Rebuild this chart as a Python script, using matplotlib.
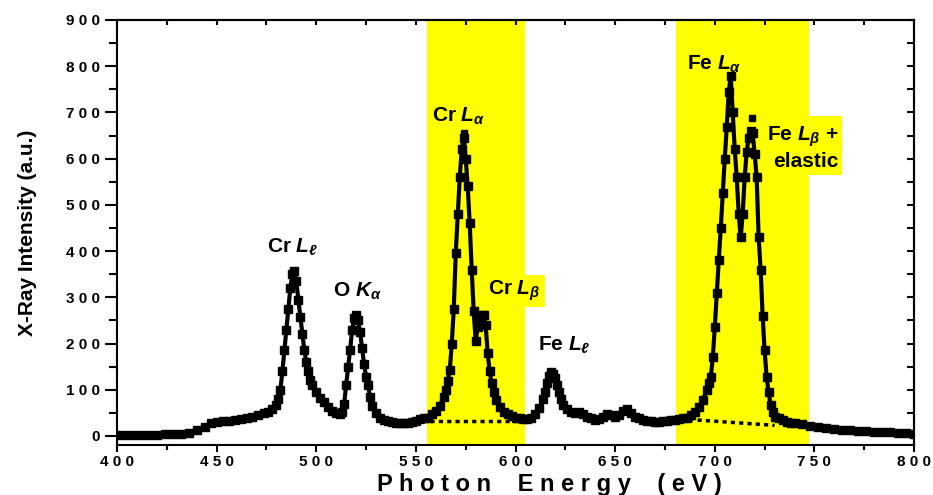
import matplotlib
matplotlib.use("Agg")
import matplotlib.pyplot as plt
from matplotlib.ticker import MultipleLocator, FixedLocator

plt.rcParams['font.family'] = ['Liberation Sans', 'DejaVu Sans']
plt.rcParams['mathtext.fontset'] = 'custom'
plt.rcParams['mathtext.it'] = 'Liberation Sans:italic:bold'
plt.rcParams['mathtext.rm'] = 'Liberation Sans:bold'
plt.rcParams['mathtext.bf'] = 'Liberation Sans:bold'

# ---- data ----
energy = [400, 404, 408, 412, 416, 420, 424, 428, 432, 436, 440, 444, 447, 450, 453, 456, 459,
          462, 465, 468, 471, 474, 476, 478, 480, 481, 482, 483, 484, 485, 486, 487, 488, 489,
          490, 491, 492, 493, 494, 495, 496, 497, 498, 500, 502, 504, 506, 508, 510, 512, 513,
          514, 515, 516, 517, 518, 519, 520, 521, 522, 523, 524, 525, 526, 527, 528, 530, 532,
          534, 536, 538, 540, 542, 544, 546, 548, 550, 552, 554, 556, 558, 560, 562, 564, 565,
          566, 567, 568, 569, 570, 571, 572, 573, 574, 575, 576, 577, 578, 579, 580, 581, 582,
          583, 584, 585, 586, 587, 588, 589, 590, 592, 594, 596, 598, 600, 602, 604, 606, 608,
          610, 612, 614, 615, 616, 617, 618, 619, 620, 621, 622, 623, 624, 626, 628, 630, 632,
          634, 636, 638, 640, 642, 644, 646, 648, 650, 652, 654, 656, 658, 660, 662, 664, 666,
          668, 670, 672, 674, 676, 678, 680, 682, 684, 686, 688, 690, 692, 694, 696, 697, 698,
          699, 700, 701, 702, 703, 704, 705, 706, 707, 708, 709, 710, 711, 712, 713, 714, 715,
          716, 717, 718, 719, 720, 721, 722, 723, 724, 725, 726, 727, 728, 729, 730, 732, 734,
          736, 738, 740, 744, 748, 752, 756, 760, 764, 768, 772, 776, 780, 784, 788, 792, 796,
          800]
intensity = [3, 3, 2, 2, 3, 3, 4, 4, 5, 7, 12, 20, 28, 31, 32, 33, 35,
             37, 39, 41, 45, 49, 52, 58, 68, 80, 100, 140, 185, 230, 275, 320, 350, 358,
             335, 295, 258, 220, 186, 160, 140, 122, 110, 95, 83, 73, 62, 55, 50, 48, 52,
             70, 110, 150, 186, 230, 255, 262, 250, 225, 190, 155, 128, 110, 85, 65, 50, 40,
             35, 32, 30, 29, 28, 28, 29, 30, 33, 36, 38, 40, 48, 55, 65, 85, 100,
             120, 143, 200, 275, 396, 480, 560, 620, 645, 600, 540, 460, 360, 270, 205, 235, 255,
             262, 262, 240, 180, 140, 115, 95, 78, 62, 52, 47, 43, 40, 38, 36, 37, 40,
             48, 60, 80, 95, 115, 130, 138, 135, 125, 110, 95, 80, 68, 58, 52, 50, 52,
             48, 42, 38, 35, 36, 42, 48, 45, 42, 45, 55, 58, 50, 42, 38, 35, 33,
             32, 31, 31, 32, 33, 34, 35, 36, 38, 40, 45, 52, 62, 78, 100, 115, 128,
             170, 236, 310, 381, 450, 525, 600, 669, 745, 778, 700, 620, 560, 480, 430, 480, 560,
             615, 645, 660, 655, 610, 560, 430, 360, 260, 185, 128, 95, 68, 52, 42, 38, 34,
             31, 29, 28, 25, 22, 20, 18, 15, 13, 12, 11, 10, 9, 8, 8, 7, 6,
             5]

# isolated high points above the peaks
outlier_energy = [574, 718.5]
outlier_intensity = [655, 688]

# dotted background lines under the shaded peaks
cr_base_energy = [557, 600]
cr_base_intensity = [32, 32]
fe_base_energy = [683, 730]
fe_base_intensity = [37, 23]

# shaded regions
bands = [(555.5, 605), (680.5, 747.5)]

xticks = [400, 450, 500, 550, 600, 650, 700, 750, 800]
xtick_labels = ["4 0 0", "4 5 0", "5 0 0", "5 5 0", "6 0 0", "6 5 0", "7 0 0", "7 5 0", "8 0 0"]
yticks = [0, 100, 200, 300, 400, 500, 600, 700, 800, 900]
ytick_labels = ["0", "1 0 0", "2 0 0", "3 0 0", "4 0 0", "5 0 0", "6 0 0", "7 0 0", "8 0 0", "9 0 0"]

# ---- figure ----
fig = plt.figure(figsize=(9.33, 4.95), dpi=100)
ax = fig.add_axes([0.1254, 0.101, 0.8543, 0.8586])

for lo, hi in bands:
    ax.axvspan(lo, hi, color='#ffff00', zorder=0, lw=0)

ax.plot(cr_base_energy, cr_base_intensity, ls=(0, (1.2, 1.2)), color='black', lw=2.5, zorder=2)
ax.plot(fe_base_energy, fe_base_intensity, ls=(0, (1.2, 1.2)), color='black', lw=2.5, zorder=2)

ax.plot(energy, intensity, color='black', lw=3.0, marker='s', markersize=5.5, zorder=3)
ax.plot(outlier_energy, outlier_intensity, ls='none', color='black', marker='s', markersize=5, zorder=3)

ax.set_xlim(400, 800)
ax.set_ylim(-19.5, 900)

ax.xaxis.set_major_locator(FixedLocator(xticks))
ax.set_xticklabels(xtick_labels)
ax.xaxis.set_minor_locator(MultipleLocator(25))
ax.yaxis.set_major_locator(FixedLocator(yticks))
ax.set_yticklabels(ytick_labels)
ax.yaxis.set_minor_locator(MultipleLocator(50))

for lab in ax.get_xticklabels() + ax.get_yticklabels():
    lab.set_fontweight('bold')
    lab.set_fontsize(11)

ax.tick_params(axis='y', which='major', direction='out', length=9, width=1.5, left=True, right=False, pad=3)
ax.tick_params(axis='y', which='minor', direction='out', length=6, width=1.5, left=True, right=False)
ax.tick_params(axis='x', which='major', direction='out', length=5, width=1.5, bottom=True, top=False, pad=2)
ax.tick_params(axis='x', which='minor', direction='out', length=3.5, width=1.5, bottom=True, top=False)

# inward ticks on top and right
axt = ax.secondary_xaxis('top')
axt.xaxis.set_major_locator(FixedLocator(xticks))
axt.xaxis.set_minor_locator(MultipleLocator(25))
axt.tick_params(which='both', direction='in', length=3.5, width=1.5, labeltop=False)
axr = ax.secondary_yaxis('right')
axr.yaxis.set_major_locator(FixedLocator(yticks))
axr.yaxis.set_minor_locator(MultipleLocator(50))
axr.tick_params(which='both', direction='in', length=5, width=1.5, labelright=False)
for a in (axt, axr):
    for s in a.spines.values():
        s.set_linewidth(1.5)

for s in ax.spines.values():
    s.set_linewidth(1.5)

ax.set_xlabel("P h o t o n    E n e r g y    ( e V )", fontsize=17, fontweight='bold')
ax.xaxis.label.set_va('baseline')
ax.xaxis.set_label_coords(0.543, -0.108)
ax.set_ylabel("X-Ray Intensity (a.u.)", fontsize=15, fontweight='bold')
ax.yaxis.set_label_coords(-0.100, 0.5)

tkw = dict(fontsize=15, fontweight='bold', va='baseline', ha='left', zorder=5)
ax.text(475.3, 398, r"Cr $L_{\ell}$", **tkw)
ax.text(508.4, 301, r"O $K_{\alpha}$", **tkw)
ax.text(558, 679, r"Cr $L_{\alpha}$", **tkw)
ax.text(586.2, 305, r"Cr $L_{\beta}$",
        bbox=dict(facecolor='#ffff00', edgecolor='none', pad=3), **tkw)
ax.text(611.3, 186, r"Fe $L_{\ell}$", **tkw)
ax.text(686, 792, r"Fe $L_{\alpha}$", **tkw)
ax.text(726, 582, "Fe $L_{\\beta}$ +\nelastic", multialignment='right',
        bbox=dict(facecolor='#ffff00', edgecolor='none', pad=3), **tkw)

fig.savefig("out.png", dpi=100)
